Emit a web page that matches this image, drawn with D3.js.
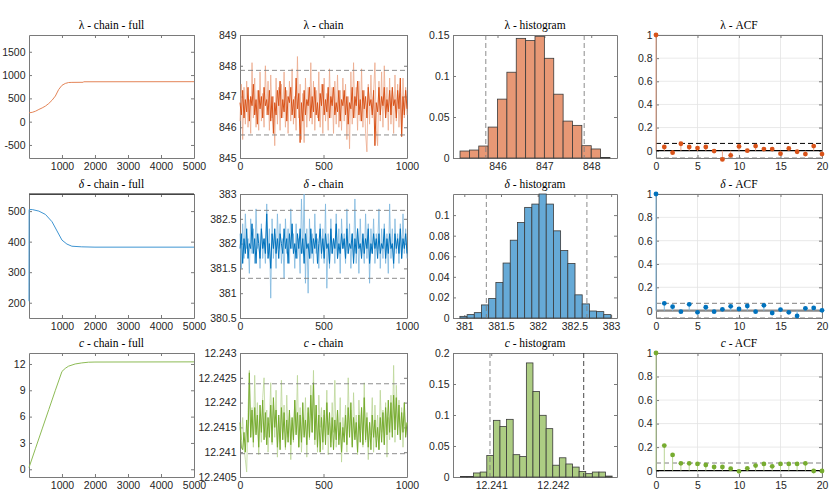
<!DOCTYPE html>
<html>
<head>
<meta charset="utf-8">
<script src="https://cdn.jsdelivr.net/npm/d3@7"></script>
<style>
  body { margin: 0; background: #fff; }
  svg text { font-family: "Liberation Sans", Arial, sans-serif; }
</style>
</head>
<body>
<div id="chart"></div>
<script>
// ---- data ----
const params = ["λ", "δ", "c"];

// full chains (iteration, value)
const lambdaFullIter = [1, 100, 200, 300, 400, 500, 600, 700, 800, 900, 1000, 1100, 1200, 1300, 1640, 1660, 5000];
const lambdaFull = [190, 200, 225, 262, 295, 335, 390, 460, 550, 690, 780, 820, 840, 843, 845, 856, 858];
const deltaFullIter = [1, 5, 100, 300, 500, 700, 850, 1000, 1150, 1300, 1600, 2000, 5000];
const deltaFull = [205, 505, 505, 500, 489, 465, 435, 405, 392, 385, 383, 382, 382];
const cFullIter = [1, 200, 400, 600, 800, 1000, 1100, 1200, 1400, 1600, 1800, 2000, 5000];
const cFull = [0.2, 2.4, 4.6, 6.8, 9.0, 11.15, 11.5, 11.75, 12.0, 12.12, 12.2, 12.22, 12.24];

// last 1000 iterations, two overlaid chains (light / dark), sampled
const lambdaChainLight = [846.2, 847.4, 845.6, 847.3, 846.1, 847.5, 846.0, 846.9, 845.8, 848.1, 846.3, 847.6, 846.0, 847.2, 845.9, 847.8,
  846.2, 847.1, 846.0, 848.0, 846.4, 847.5, 845.9, 847.7, 846.3, 847.0, 845.4, 847.6, 846.1, 847.3, 845.9, 847.4,
  846.3, 847.8, 846.0, 847.2, 845.8, 847.5, 846.2, 847.9, 846.1, 847.0, 845.9, 848.3, 846.3, 847.4, 845.6, 847.1,
  845.5, 847.6, 846.0, 847.3, 846.2, 848.1, 846.1, 847.5, 845.9, 847.2, 846.3, 847.8, 846.0, 847.4, 845.8, 847.6,
  846.2, 847.1, 845.9, 847.9, 846.3, 847.3, 845.8, 847.5, 846.1, 847.7, 846.0, 847.2, 845.9, 847.6, 846.2, 847.4,
  845.6, 847.0, 845.3, 847.8, 846.1, 848.1, 846.3, 847.3, 845.9, 847.5, 846.2, 847.9, 846.0, 847.2, 845.8, 845.2,
  847.4, 846.1, 847.7, 846.3, 847.1, 848.1, 845.9, 845.4, 847.5, 846.2, 847.8, 846.0, 848.0, 846.3, 847.3, 845.9,
  847.6, 846.1, 847.2, 845.8, 847.7, 846.2, 847.4, 846.0, 847.1, 845.7, 847.6, 846.3, 847.3, 846.4];
const lambdaChainDark = [846.8, 846.4, 847.2, 846.3, 846.9, 846.5, 847.3, 846.2, 847.0, 846.7, 847.4, 846.4, 846.9, 846.1, 847.2, 846.6,
  847.0, 846.3, 847.3, 846.7, 846.9, 846.4, 847.2, 846.2, 847.0, 845.8, 846.8, 846.4, 847.2, 846.7, 847.5, 846.3,
  846.9, 846.5, 847.3, 846.2, 847.0, 846.8, 847.3, 846.4, 846.9, 846.3, 847.6, 846.6, 847.1, 845.5, 846.8, 846.2,
  847.2, 846.4, 846.9, 846.7, 847.3, 846.3, 847.0, 846.5, 847.3, 846.4, 846.8, 846.2, 847.1, 846.7, 847.4, 846.4,
  846.9, 846.5, 847.3, 846.3, 847.0, 846.7, 847.3, 846.4, 846.8, 846.5, 847.2, 846.2, 846.9, 846.7, 847.2, 846.4,
  847.0, 846.1, 846.8, 846.6, 847.3, 846.3, 847.0, 846.7, 847.5, 846.4, 846.9, 846.2, 847.2, 846.6, 847.0, 846.3,
  847.3, 846.7, 846.9, 846.4, 847.2, 845.4, 846.8, 846.5, 847.3, 846.4, 847.0, 846.7, 847.3, 846.3, 846.9, 846.5,
  847.2, 846.4, 847.3, 846.7, 846.9, 846.3, 847.2, 846.6, 847.6, 845.7, 847.0, 846.4, 847.2, 846.6];
const deltaChainLight = [382.2, 381.5, 382.4, 381.7, 382.6, 381.9, 382.1, 381.4, 382.5, 381.8, 382.3, 381.6, 382.7, 381.9, 382.2, 381.5,
  382.4, 381.7, 382.1, 381.6, 382.8, 381.8, 382.3, 380.9, 382.5, 381.7, 382.2, 381.5, 382.6, 381.9, 382.4, 381.6,
  382.1, 381.3, 382.5, 381.8, 382.3, 381.6, 382.7, 381.9, 382.2, 381.5, 382.4, 381.7, 382.1, 381.4, 382.9, 381.8,
  383.0, 381.2, 382.3, 381.0, 382.5, 381.7, 382.2, 381.6, 382.6, 381.8, 382.1, 381.5, 382.4, 381.7, 382.3, 381.6,
  382.8, 381.1, 382.2, 381.5, 382.5, 381.8, 382.1, 381.6, 382.6, 381.7, 382.3, 381.4, 382.5, 381.9, 382.2, 381.6,
  382.7, 381.8, 382.4, 381.5, 382.2, 381.7, 382.9, 381.6, 382.3, 381.4, 382.5, 381.8, 382.1, 381.6, 382.6, 381.7,
  382.4, 381.2, 382.3, 381.8, 382.5, 381.6, 382.2, 381.9, 382.7, 381.5, 382.3, 381.7, 382.4, 381.6, 382.2, 381.4,
  382.8, 381.7, 382.3, 381.5, 382.5, 381.8, 382.2, 381.6, 382.4, 381.7, 382.6, 381.8, 382.3, 381.7];
const deltaChainDark = [381.9, 382.2, 381.6, 382.1, 381.8, 382.3, 381.7, 382.0, 381.9, 382.4, 381.8, 382.1, 381.6, 382.2, 382.0, 381.7,
  382.3, 381.9, 382.1, 381.8, 382.6, 381.7, 382.0, 381.5, 382.2, 381.9, 382.3, 381.8, 382.1, 381.7, 382.2, 382.0,
  381.8, 382.3, 381.9, 382.1, 381.6, 382.2, 381.9, 382.4, 381.8, 382.0, 381.7, 382.2, 381.9, 382.3, 381.8, 382.1,
  381.6, 382.2, 381.9, 382.0, 381.7, 382.3, 381.8, 382.1, 381.9, 382.2, 381.6, 382.0, 382.3, 381.8, 382.1, 381.7,
  382.2, 381.9, 382.0, 381.6, 382.3, 381.8, 382.1, 381.9, 382.4, 381.7, 382.0, 381.8, 382.2, 381.9, 382.1, 381.7,
  382.3, 381.8, 382.0, 381.9, 382.2, 381.6, 382.1, 381.8, 382.3, 381.9, 382.0, 381.7, 382.2, 381.8, 382.1, 381.9,
  382.3, 381.6, 382.0, 381.8, 382.2, 381.9, 382.1, 381.7, 382.2, 381.8, 382.0, 381.9, 382.3, 381.7, 382.1, 381.8,
  382.2, 381.9, 382.0, 381.6, 382.2, 381.9, 382.1, 381.8, 382.3, 381.7, 382.1, 381.9, 382.2, 381.8];
const cChainLight = [12.24150, 12.24125, 12.24170, 12.24110, 12.24085, 12.24060, 12.24180, 12.24265, 12.24130, 12.24190, 12.24110, 12.24255,
  12.24140, 12.24200, 12.24095, 12.24175, 12.24120, 12.24210, 12.24250, 12.24130, 12.24185, 12.24100, 12.24160, 12.24240,
  12.24115, 12.24195, 12.24130, 12.24225, 12.24090, 12.24170, 12.24120, 12.24245, 12.24140, 12.24195, 12.24105, 12.24215,
  12.24130, 12.24180, 12.24085, 12.24165, 12.24120, 12.24205, 12.24140, 12.24255, 12.24110, 12.24190, 12.24100, 12.24170,
  12.24135, 12.24210, 12.24090, 12.24180, 12.24125, 12.24235, 12.24140, 12.24265, 12.24115, 12.24195, 12.24100, 12.24215,
  12.24150, 12.24190, 12.24105, 12.24175, 12.24130, 12.24225, 12.24095, 12.24160, 12.24120, 12.24200, 12.24140, 12.24245,
  12.24110, 12.24185, 12.24125, 12.24210, 12.24080, 12.24170, 12.24135, 12.24195, 12.24100, 12.24250, 12.24140, 12.24185,
  12.24115, 12.24220, 12.24130, 12.24175, 12.24095, 12.24205, 12.24145, 12.24190, 12.24110, 12.24240, 12.24120, 12.24180,
  12.24085, 12.24160, 12.24135, 12.24210, 12.24100, 12.24195, 12.24130, 12.24175, 12.24105, 12.24225, 12.24140, 12.24185,
  12.24115, 12.24200, 12.24090, 12.24170, 12.24125, 12.24215, 12.24140, 12.24275, 12.24120, 12.24235, 12.24150, 12.24205,
  12.24130, 12.24190, 12.24110, 12.24180, 12.24135, 12.24160];
const cChainDark = [12.24160, 12.24110, 12.24105, 12.24140, 12.24100, 12.24165, 12.24120, 12.24260, 12.24130, 12.24185, 12.24120, 12.24190,
  12.24135, 12.24175, 12.24110, 12.24195, 12.24140, 12.24205, 12.24125, 12.24180, 12.24115, 12.24170, 12.24130, 12.24195,
  12.24120, 12.24210, 12.24150, 12.24185, 12.24110, 12.24175, 12.24105, 12.24190, 12.24125, 12.24180, 12.24110, 12.24165,
  12.24120, 12.24185, 12.24115, 12.24170, 12.24125, 12.24205, 12.24135, 12.24180, 12.24110, 12.24175, 12.24120, 12.24200,
  12.24130, 12.24165, 12.24115, 12.24190, 12.24130, 12.24215, 12.24140, 12.24240, 12.24125, 12.24195, 12.24110, 12.24175,
  12.24100, 12.24170, 12.24120, 12.24185, 12.24115, 12.24200, 12.24135, 12.24180, 12.24110, 12.24170, 12.24105, 12.24165,
  12.24125, 12.24185, 12.24115, 12.24160, 12.24100, 12.24150, 12.24120, 12.24175, 12.24115, 12.24190, 12.24130, 12.24200,
  12.24110, 12.24170, 12.24125, 12.24160, 12.24100, 12.24175, 12.24120, 12.24190, 12.24115, 12.24210, 12.24125, 12.24170,
  12.24110, 12.24160, 12.24105, 12.24175, 12.24130, 12.24165, 12.24110, 12.24150, 12.24105, 12.24170, 12.24120, 12.24180,
  12.24115, 12.24190, 12.24135, 12.24205, 12.24140, 12.24200, 12.24130, 12.24215, 12.24145, 12.24210, 12.24135, 12.24195,
  12.24125, 12.24180, 12.24140, 12.24200, 12.24130, 12.24160];

// 95% interval lines drawn on chains and histograms
const lambdaCI = [845.75, 847.85];
const deltaCI = [381.3, 382.67];
const cChainCI = [12.24097, 12.24238];
const cHistCI = [12.24098, 12.2425];

// histograms: first bin edge, bin width, probabilities
const lambdaHistStart = 845.2, lambdaHistWidth = 0.2;
const lambdaHist = [0.0085, 0.0097, 0.0146, 0.0377, 0.0718, 0.1046, 0.1459, 0.1432, 0.1484, 0.1216, 0.0778, 0.045, 0.0398, 0.015, 0.011, 0.0006];
const deltaHistStart = 380.94, deltaHistWidth = 0.098;
const deltaHist = [0.0016, 0.0033, 0.0052, 0.0127, 0.0189, 0.0345, 0.0534, 0.0756, 0.0928, 0.1075, 0.1107, 0.1205, 0.1107, 0.0847, 0.0655, 0.053, 0.0225, 0.0137, 0.0068, 0.0062, 0.0033];
const cHistStart = 12.2405, cHistWidth = 0.000107;
const cHist = [0.0008, 0.0008, 0.0065, 0.008, 0.0346, 0.0914, 0.0816, 0.093, 0.036, 0.033, 0.184, 0.138, 0.0995, 0.078, 0.019, 0.031, 0.021, 0.016, 0.009, 0.0054, 0.008, 0.008, 0.0015];

// autocorrelation, lags 0..20
const lags = d3.range(0, 21);
const lambdaACF = [1, 0.032, -0.017, 0.06, 0.032, 0.023, 0.032, -0.003, -0.075, -0.04, 0.037, 0.0, 0.04, 0.014, 0.014, -0.026, 0.02, -0.009, -0.029, 0.04, -0.029];
const deltaACF = [1, 0.063, 0.034, -0.009, 0.054, -0.014, 0.029, -0.009, 0.011, 0.037, 0.014, 0.04, -0.009, 0.046, -0.02, 0.009, -0.014, -0.046, 0.02, 0.023, 0.003];
const cACF = [1, 0.213, 0.134, 0.0625, 0.0625, 0.057, 0.048, 0.031, 0.031, 0.017, -0.006, 0.02, 0.043, 0.057, 0.037, 0.057, 0.057, 0.057, 0.0625, -0.003, -0.003];
const acfBand = [0.063, 0.063, 0.065];

// tick labels
const fullXTicks = [1000, 2000, 3000, 4000, 5000];
const chainXTicks = [0, 500, 1000];
const acfXTicks = [0, 5, 10, 15, 20];
const acfYTicks = [0, 0.2, 0.4, 0.6, 0.8, 1];
const lambdaFullYTicks = [-500, 0, 500, 1000, 1500];
const deltaFullYTicks = [200, 300, 400, 500];
const cFullYTicks = [0, 3, 6, 9, 12];
const lambdaChainYTicks = [845, 846, 847, 848, 849];
const deltaChainYTicks = [380.5, 381, 381.5, 382, 382.5, 383];
const cChainYTicks = [12.2405, 12.241, 12.2415, 12.242, 12.2425, 12.243];
const lambdaHistXTicks = [846, 847, 848];
const deltaHistXTicks = [381, 381.5, 382, 382.5, 383];
const cHistXTicks = [12.241, 12.242];
const lambdaHistYTicks = [0, 0.05, 0.1, 0.15];
const deltaHistYTicks = [0, 0.02, 0.04, 0.06, 0.08, 0.1];
const cHistYTicks = [0, 0.05, 0.1, 0.15, 0.2];

// ---- layout ----
const width = 830, height = 498;
const cols = [[29, 194], [240, 407], [453, 617], [656, 822]];
const rows = [[35, 158], [194, 318], [353, 477]];
const dark = ["#D95319", "#0072BD", "#77AC30"];
const light = ["#ECA98C", "#7FB8DE", "#BBD597"];
const fill = ["#E89875", "#66AAD7", "#ADCD83"];
const fullColor = ["#E48558", "#3F95D2", "#8DBB55"];

const svg = d3.select("#chart").append("svg")
  .attr("width", width).attr("height", height);

function panel(c, r, xDom, yDom, xTicks, yTicks, title, opts) {
  opts = opts || {};
  const [x0, x1] = cols[c], [y0, y1] = rows[r];
  const x = d3.scaleLinear().domain(xDom).range([x0, x1]);
  const y = d3.scaleLinear().domain(yDom).range([y1, y0]);
  const g = svg.append("g");

  if (opts.grid) {
    g.selectAll(".gx").data(xTicks).enter().append("line")
      .attr("x1", d => x(d)).attr("x2", d => x(d)).attr("y1", y0).attr("y2", y1)
      .attr("stroke", "#e3e3e3").attr("stroke-width", 0.8);
    g.selectAll(".gy").data(yTicks).enter().append("line")
      .attr("x1", x0).attr("x2", x1).attr("y1", d => y(d)).attr("y2", d => y(d))
      .attr("stroke", "#e3e3e3").attr("stroke-width", 0.8);
  }

  const fmt = d => String(d);
  const style = sel => {
    sel.select(".domain").attr("stroke", "#7a7a7a");
    sel.selectAll(".tick line").attr("stroke", "#7a7a7a");
    sel.selectAll("text").attr("fill", "#262626").style("font-size", "10.5px")
      .style("font-family", "'Liberation Sans', Arial, sans-serif");
  };
  g.append("g").attr("transform", `translate(0,${y1})`)
    .call(d3.axisBottom(x).tickValues(xTicks).tickFormat(fmt).tickSize(-3).tickSizeOuter(0).tickPadding(5))
    .call(style);
  g.append("g").attr("transform", `translate(0,${y0})`)
    .call(d3.axisTop(x).tickValues(xTicks).tickFormat("").tickSize(-3).tickSizeOuter(0))
    .call(style);
  g.append("g").attr("transform", `translate(${x0},0)`)
    .call(d3.axisLeft(y).tickValues(yTicks).tickFormat(fmt).tickSize(-3).tickSizeOuter(0).tickPadding(3.5))
    .call(style);
  g.append("g").attr("transform", `translate(${x1},0)`)
    .call(d3.axisRight(y).tickValues(yTicks).tickFormat("").tickSize(-3).tickSizeOuter(0))
    .call(style);

  // title: symbol + text, LaTeX-like serif
  const t = svg.append("text")
    .attr("x", (x0 + x1) / 2).attr("y", y0 - 6)
    .attr("text-anchor", "middle")
    .style("font-family", "'Liberation Serif', 'DejaVu Serif', serif")
    .style("font-size", "11.5px").attr("fill", "#000");
  t.append("tspan").style("font-style", title.italic ? "italic" : "normal").text(title.sym);
  t.append("tspan").text(" - " + title.text);

  return { g, x, y };
}

const fullIters = [lambdaFullIter, deltaFullIter, cFullIter];
const fullVals = [lambdaFull, deltaFull, cFull];
const fullYDom = [[-780, 1860], [150, 556], [-0.88, 13.25]];
const fullYTicks = [lambdaFullYTicks, deltaFullYTicks, cFullYTicks];
const chainsLight = [lambdaChainLight, deltaChainLight, cChainLight];
const chainsDark = [lambdaChainDark, deltaChainDark, cChainDark];
const chainYDom = [[845, 849], [380.5, 383], [12.2405, 12.243]];
const chainYTicks = [lambdaChainYTicks, deltaChainYTicks, cChainYTicks];
const chainCI = [lambdaCI, deltaCI, cChainCI];
const histCI = [lambdaCI, deltaCI, cHistCI];
const hists = [lambdaHist, deltaHist, cHist];
const histStart = [lambdaHistStart, deltaHistStart, cHistStart];
const histWidth = [lambdaHistWidth, deltaHistWidth, cHistWidth];
const histXDom = [[845.05, 848.55], [380.846, 383.08], [12.24038, 12.24304]];
const histYDom = [[0, 0.15], [0, 0.1205], [0, 0.2]];
const histXTicks = [lambdaHistXTicks, deltaHistXTicks, cHistXTicks];
const histYTicks = [lambdaHistYTicks, deltaHistYTicks, cHistYTicks];
const acfs = [lambdaACF, deltaACF, cACF];
const acfYDom = [[-0.063, 1], [-0.063, 1], [-0.054, 1]];
const italic = [false, true, true];

params.forEach((p, r) => {
  const sym = { sym: p, italic: italic[r] };

  // full chain
  const f = panel(0, r, [1, 5000], fullYDom[r], fullXTicks, fullYTicks[r], Object.assign({ text: "chain - full" }, sym));
  if (r === 1) {
    f.g.append("line").attr("x1", cols[0][0]).attr("x2", cols[0][1])
      .attr("y1", rows[1][0]).attr("y2", rows[1][0]).attr("stroke", "#111").attr("stroke-width", 1.2);
  }
  f.g.append("path")
    .datum(fullVals[r].map((v, i) => [fullIters[r][i], v]))
    .attr("fill", "none").attr("stroke", fullColor[r]).attr("stroke-width", 1)
    .attr("d", d3.line().x(d => f.x(d[0])).y(d => f.y(d[1])));

  // chain after burn-in
  const ch = panel(1, r, [0, 1000], chainYDom[r], chainXTicks, chainYTicks[r], Object.assign({ text: "chain" }, sym));
  [chainsLight[r], chainsDark[r]].forEach((vals, k) => {
    const n = vals.length;
    ch.g.append("path").datum(vals)
      .attr("fill", "none").attr("stroke", k === 0 ? light[r] : dark[r]).attr("stroke-width", k === 0 ? 0.8 : 1)
      .attr("d", d3.line().x((d, i) => ch.x(i * 1000 / (n - 1))).y(d => ch.y(d)));
  });
  ch.g.selectAll(".ci").data(chainCI[r]).enter().append("line")
    .attr("x1", cols[1][0]).attr("x2", cols[1][1])
    .attr("y1", d => ch.y(d)).attr("y2", d => ch.y(d))
    .attr("stroke", "#808080").attr("stroke-width", 0.9).attr("stroke-dasharray", "5,3");

  // histogram
  const h = panel(2, r, histXDom[r], histYDom[r], histXTicks[r], histYTicks[r], Object.assign({ text: "histogram" }, sym));
  h.g.selectAll(".bar").data(hists[r]).enter().append("rect")
    .attr("x", (d, i) => h.x(histStart[r] + i * histWidth[r]))
    .attr("width", (d, i) => h.x(histStart[r] + (i + 1) * histWidth[r]) - h.x(histStart[r] + i * histWidth[r]))
    .attr("y", d => h.y(d))
    .attr("height", d => h.y(0) - h.y(d))
    .attr("fill", fill[r]).attr("stroke", "#3a3a3a").attr("stroke-width", 0.8);
  h.g.selectAll(".ci").data(histCI[r]).enter().append("line")
    .attr("x1", d => h.x(d)).attr("x2", d => h.x(d))
    .attr("y1", rows[r][0]).attr("y2", rows[r][1])
    .attr("stroke", (d, i) => (r === 2 && i === 1) ? "#333" : "#808080")
    .attr("stroke-width", 0.9).attr("stroke-dasharray", "5,3");

  // autocorrelation
  const a = panel(3, r, [0, 20], acfYDom[r], acfXTicks, acfYTicks, Object.assign({ text: "ACF" }, sym), { grid: true });
  const band = acfBand[r];
  [band, -band].forEach((b, k) => {
    if (b < acfYDom[r][0]) return;
    a.g.append("line").attr("x1", cols[3][0]).attr("x2", cols[3][1])
      .attr("y1", a.y(b)).attr("y2", a.y(b))
      .attr("stroke", (r === 0 && k === 0) ? "#000" : "#808080")
      .attr("stroke-width", 1).attr("stroke-dasharray", "5,3");
  });
  a.g.append("line").attr("x1", cols[3][0]).attr("x2", cols[3][1])
    .attr("y1", a.y(0)).attr("y2", a.y(0))
    .attr("stroke", r === 1 ? "#8a8a8a" : "#000").attr("stroke-width", r === 1 ? 2.2 : 1.2);
  a.g.selectAll(".stem").data(acfs[r]).enter().append("line")
    .attr("x1", (d, i) => a.x(lags[i])).attr("x2", (d, i) => a.x(lags[i]))
    .attr("y1", a.y(0)).attr("y2", d => a.y(d))
    .attr("stroke", light[r]).attr("stroke-width", 1);
  a.g.selectAll(".dot").data(acfs[r]).enter().append("circle")
    .attr("cx", (d, i) => a.x(lags[i])).attr("cy", d => a.y(d))
    .attr("r", 2.4).attr("fill", dark[r]);
});
</script>
</body>
</html>
